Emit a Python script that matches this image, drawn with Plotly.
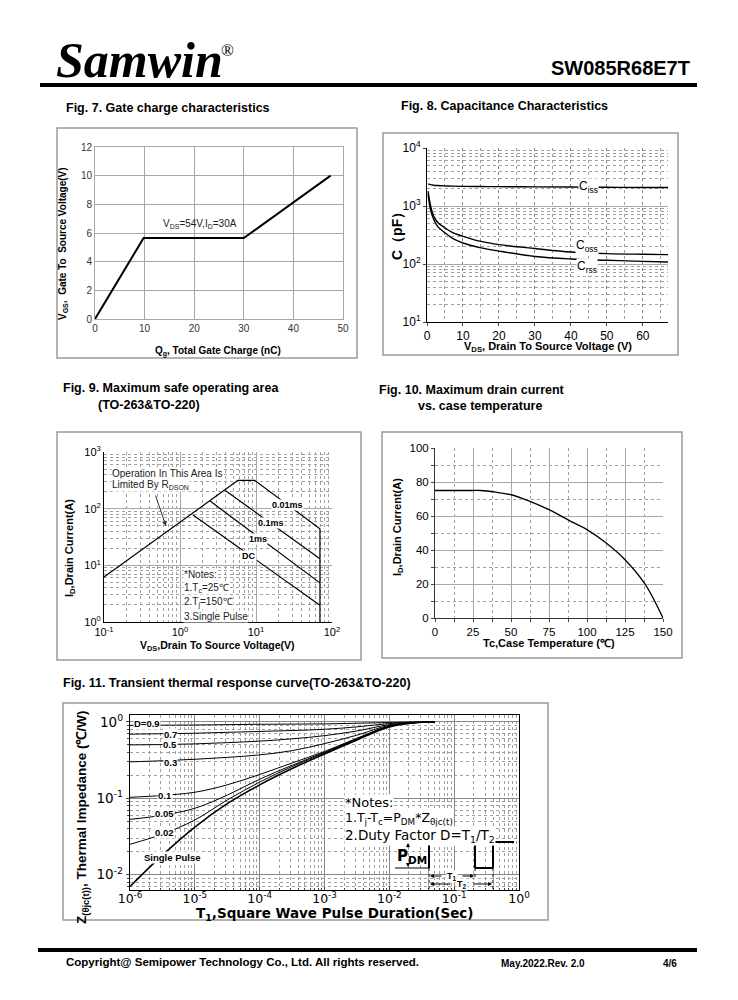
import plotly.graph_objects as go

W, H = 738, 1000
def px(x): return x / W
def py(y): return 1 - y / H

# ---------------- data ----------------
# Fig 7 gate charge
qg_nc = [0, 9.8, 30, 47.5]
vgs_v = [0, 5.65, 5.65, 10]

# Fig 8 capacitance
vds_cap = [0.3, 1, 1.85, 3, 5, 7, 10, 15, 20, 30, 40, 50, 60, 67]
ciss_pf = [2400, 2330, 2280, 2250, 2220, 2200, 2180, 2165, 2155, 2140, 2120, 2100, 2090, 2080]
coss_pf = [1800, 1000, 670, 520, 420, 350, 300, 245, 216, 185, 161, 151, 147, 145]
crss_pf = [1600, 850, 590, 440, 345, 280, 230, 190, 167, 135, 122, 116, 111, 108]

# Fig 9 safe operating area
rdson_v = [0.1, 5.8]
rdson_a = [6.2, 316]
p001_v = [5.8, 9.6, 69.4, 69.4]
p001_a = [316, 316, 44, 1]
p01_v = [3.94, 69.4]
p01_a = [210, 13.1]
p1_v = [2.49, 69.4]
p1_a = [136, 4.9]
dc_v = [1.47, 69.4]
dc_a = [78, 1.97]

# Fig 10 drain current vs case temperature
tc_c = [0, 25, 30, 40, 50, 60, 75, 90, 100, 112, 125, 138, 150]
id_a = [75, 75, 75, 74, 72.5, 69.5, 63.7, 56.5, 52, 44.5, 34.3, 20.2, 0]

# Fig 11 transient thermal response
t1_s = [1e-6, 3.16e-6, 1e-5, 3.16e-5, 1e-4, 3.16e-4, 1e-3, 3.16e-3, 1e-2, 3.16e-2, 5e-2]
z_d09 = [0.90, 0.905, 0.91, 0.92, 0.93, 0.935, 0.94, 0.96, 0.98, 1.0, 1.0]
z_d07 = [0.69, 0.70, 0.71, 0.73, 0.75, 0.77, 0.80, 0.86, 0.95, 1.0, 1.0]
z_d05 = [0.50, 0.505, 0.515, 0.535, 0.56, 0.60, 0.66, 0.76, 0.92, 0.99, 1.0]
z_d03 = [0.30, 0.31, 0.324, 0.343, 0.37, 0.42, 0.52, 0.67, 0.90, 0.99, 1.0]
z_d01 = [0.103, 0.109, 0.12, 0.15, 0.205, 0.29, 0.41, 0.61, 0.88, 0.99, 1.0]
z_d005 = [0.053, 0.06, 0.074, 0.11, 0.178, 0.27, 0.40, 0.60, 0.88, 0.99, 1.0]
z_d002 = [0.025, 0.034, 0.052, 0.095, 0.163, 0.26, 0.39, 0.59, 0.87, 0.99, 1.0]
z_single = [0.007, 0.018, 0.042, 0.085, 0.15, 0.245, 0.38, 0.58, 0.86, 0.99, 1.0]

# tick labels
cap_ticks = [10, 100, 1000, 10000]
cap_ticktext = ["10<sup>1</sup>", "10<sup>2</sup>", "10<sup>3</sup>", "10<sup>4</sup>"]
soa_xticks = [0.1, 1, 10, 100]
soa_xtext = ["10<sup>-1</sup>", "10<sup>0</sup>", "10<sup>1</sup>", "10<sup>2</sup>"]
soa_yticks = [1, 10, 100, 1000]
soa_ytext = ["10<sup>0</sup>", "10<sup>1</sup>", "10<sup>2</sup>", "10<sup>3</sup>"]
zt_xticks = [1e-6, 1e-5, 1e-4, 1e-3, 1e-2, 1e-1, 1]
zt_xtext = ["10<sup>-6</sup>", "10<sup>-5</sup>", "10<sup>-4</sup>", "10<sup>-3</sup>",
            "10<sup>-2</sup>", "10<sup>-1</sup>", "10<sup>0</sup>"]
zt_yticks = [0.01, 0.1, 1]
zt_ytext = ["10<sup>-2</sup>", "10<sup>-1</sup>", "10<sup>0</sup>"]


def log_minor(lo, hi):
    return [m * 10 ** e for e in range(lo, hi) for m in range(2, 10)]


ARIAL = "Arial, Liberation Sans, sans-serif"
DJV = "DejaVu Sans, sans-serif"
GRID = "#a8a8a8"
DOT = "#a0a0a0"

fig = go.Figure()

# Fig 7
fig.add_trace(go.Scatter(x=qg_nc, y=vgs_v, mode="lines",
                         line=dict(color="black", width=2), xaxis="x", yaxis="y"))
# Fig 8
for ys in (ciss_pf, coss_pf, crss_pf):
    fig.add_trace(go.Scatter(x=vds_cap, y=ys, mode="lines",
                             line=dict(color="black", width=1.4, shape="spline"),
                             xaxis="x2", yaxis="y2"))
# Fig 9
for xs, ys in ((rdson_v, rdson_a), (p001_v, p001_a), (p01_v, p01_a), (p1_v, p1_a), (dc_v, dc_a)):
    fig.add_trace(go.Scatter(x=xs, y=ys, mode="lines",
                             line=dict(color="black", width=1.2), xaxis="x3", yaxis="y3"))
# Fig 10
fig.add_trace(go.Scatter(x=tc_c, y=id_a, mode="lines",
                         line=dict(color="black", width=1.3, shape="spline"),
                         xaxis="x4", yaxis="y4"))
# Fig 11
for zs, w in ((z_d09, 1), (z_d07, 1), (z_d05, 1), (z_d03, 1), (z_d01, 1),
              (z_d005, 1), (z_d002, 1), (z_single, 1.6)):
    fig.add_trace(go.Scatter(x=t1_s, y=zs, mode="lines",
                             line=dict(color="black", width=w, shape="spline"),
                             xaxis="x5", yaxis="y5"))

layout = dict(
    template="none",
    width=W, height=H, margin=dict(l=0, r=0, t=0, b=0, pad=0), autosize=False,
    paper_bgcolor="white", plot_bgcolor="white", showlegend=False,
    font=dict(family=ARIAL, color="black"),
)

common = dict(automargin=False, zeroline=False, showline=True)

# Fig 7 axes
layout["xaxis"] = dict(common, domain=[px(95), px(343)], anchor="y", range=[0, 50], tickvals=[0, 10, 20, 30, 40, 50],
                       showgrid=True, gridcolor=GRID, linecolor=GRID,
                       mirror=True, ticks="", tickfont=dict(size=10, color="#333"))
layout["yaxis"] = dict(common, domain=[py(319), py(147)], anchor="x", range=[0, 12], tickvals=[0, 2, 4, 6, 8, 10, 12],
                       showgrid=True, gridcolor=GRID, linecolor=GRID,
                       mirror=True, ticks="", tickfont=dict(size=10, color="#333"))
# Fig 8 axes
layout["xaxis2"] = dict(common, domain=[px(427), px(668)], anchor="y2", range=[0, 67], tickvals=[0, 10, 20, 30, 40, 50, 60],
                        showgrid=True, gridcolor="#888", griddash="dot",
                        linecolor="black", ticks="outside", ticklen=3,
                        tickfont=dict(size=12),
                        minor=dict(tickvals=[5, 15, 25, 35, 45, 55, 65], showgrid=True,
                                   gridcolor=DOT, griddash="dot"))
layout["yaxis2"] = dict(common, domain=[py(322), py(148)], anchor="x2", type="log", range=[1, 4],
                        tickvals=cap_ticks, ticktext=cap_ticktext, showgrid=True, gridcolor=GRID,
                        linecolor="black", ticks="outside", ticklen=3,
                        tickfont=dict(size=12),
                        minor=dict(tickvals=log_minor(1, 4), showgrid=True, gridcolor=DOT, griddash="dot"))
# Fig 9 axes
layout["xaxis3"] = dict(common, domain=[px(104), px(332)], anchor="y3", type="log", range=[-1, 2],
                        tickvals=soa_xticks, ticktext=soa_xtext, showgrid=True, gridcolor=GRID,
                        linecolor="black", ticks="", tickfont=dict(size=11),
                        minor=dict(tickvals=log_minor(-1, 2), showgrid=True, gridcolor=DOT, griddash="dot"))
layout["yaxis3"] = dict(common, domain=[py(622), py(452)], anchor="x3", type="log", range=[0, 3],
                        tickvals=soa_yticks, ticktext=soa_ytext, showgrid=True, gridcolor=GRID,
                        linecolor="black", ticks="", tickfont=dict(size=11),
                        minor=dict(tickvals=log_minor(0, 3), showgrid=True, gridcolor=DOT, griddash="dot"))
# Fig 10 axes
layout["xaxis4"] = dict(common, domain=[px(435), px(663)], anchor="y4", range=[0, 150], tickvals=[0, 25, 50, 75, 100, 125, 150],
                        showgrid=True, gridcolor=GRID, linecolor="#333",
                        ticks="outside", ticklen=3, tickfont=dict(size=11.5),
                        minor=dict(tickvals=[12.5, 37.5, 62.5, 87.5, 112.5, 137.5], showgrid=True,
                                   gridcolor=DOT, griddash="dot", ticks="outside", ticklen=3))
layout["yaxis4"] = dict(common, domain=[py(618), py(448)], anchor="x4", range=[0, 100], tickvals=[0, 20, 40, 60, 80, 100],
                        showgrid=True, gridcolor=GRID, linecolor="#333",
                        ticks="outside", ticklen=3, tickfont=dict(size=11.5),
                        minor=dict(tickvals=[10, 30, 50, 70, 90], showgrid=True, gridcolor=DOT,
                                   griddash="dot", ticks="outside", ticklen=3))
# Fig 11 axes
layout["xaxis5"] = dict(common, domain=[px(130), px(519)], anchor="y5", type="log", range=[-6, 0],
                        tickvals=zt_xticks, ticktext=zt_xtext, showgrid=True, gridcolor="#888",
                        linecolor="black", linewidth=1.3, mirror=True, ticklabelstandoff=-3,
                        ticks="inside", ticklen=3, tickfont=dict(size=12.5, family=DJV),
                        minor=dict(tickvals=log_minor(-6, 0), showgrid=True, gridcolor=DOT, griddash="dot",
                                   ticks="inside", ticklen=2))
layout["yaxis5"] = dict(common, domain=[py(890), py(715)], anchor="x5", type="log", range=[-2.2, 0.09],
                        tickvals=zt_yticks, ticktext=zt_ytext, showgrid=True, gridcolor="#888",
                        linecolor="black", linewidth=1.3, mirror=True,
                        ticks="outside", ticklen=3, tickfont=dict(size=13.5, family=DJV),
                        minor=dict(tickvals=log_minor(-3, 1), showgrid=True, gridcolor=DOT, griddash="dot",
                                   ticks="outside", ticklen=2))

fig.update_layout(**layout)

shapes = []
# chart boxes
for x0, y0, x1, y1 in ((57, 128, 357, 358), (383, 133, 678, 355), (57, 432, 361, 660),
                       (382, 432, 682, 658), (63, 703, 548, 920)):
    shapes.append(dict(type="rect", xref="paper", yref="paper", x0=px(x0), x1=px(x1), y0=py(y0), y1=py(y1),
                       line=dict(color="#9a9a9a", width=1.5), layer="below"))
# header/footer rules
shapes.append(dict(type="line", xref="paper", yref="paper", x0=px(40), x1=px(697), y0=py(85), y1=py(85),
                   line=dict(color="black", width=4)))
shapes.append(dict(type="line", xref="paper", yref="paper", x0=px(38), x1=px(697), y0=py(950), y1=py(950),
                   line=dict(color="black", width=4)))
# PDM waveform illustration (Fig 11)
def seg(x0, y0, x1, y1, w=1, dash="solid"):
    shapes.append(dict(type="line", xref="paper", yref="paper", x0=px(x0), x1=px(x1), y0=py(y0), y1=py(y1),
                       line=dict(color="black", width=w, dash=dash), layer="above"))
seg(395, 842, 429, 842)
seg(395, 868, 429, 868)
seg(429, 868, 429, 842, 2)
seg(429, 842, 475, 842, 2)
seg(475, 842, 475, 868, 2)
seg(475, 868, 493, 868, 2)
seg(493, 868, 493, 842, 2)
seg(493, 842, 514, 842, 2)
seg(429, 868, 429, 889, 1, "dot")
seg(493, 868, 493, 889, 1, "dot")
seg(475, 868, 475, 880, 1, "dot")
fig.update_layout(shapes=shapes)

ann = []
def txt(x, y, text, size=11, bold=False, xanchor="left", family=ARIAL, bg=None, angle=0, color="black"):
    a = dict(xref="paper", yref="paper", x=px(x), y=py(y), text=("<b>%s</b>" % text) if bold else text,
             showarrow=False, xanchor=xanchor, yanchor="middle", textangle=angle,
             font=dict(size=size, family=family, color=color), borderpad=0)
    if bg:
        a["bgcolor"] = bg
    ann.append(a)

# header
txt(55, 60, "<i>Samwin</i>", 50, True, family="Liberation Serif, Times New Roman, serif")
txt(220, 50, "®", 17, family="Liberation Serif, Times New Roman, serif")
txt(691, 68, "SW085R68E7T", 20, True, xanchor="right")
# footer
txt(65, 962, "Copyright@ Semipower Technology Co., Ltd. All rights reserved.", 11.5, True)
txt(500, 963, "May.2022.Rev. 2.0", 10, True)
txt(662, 963, "4/6", 10, True)

# figure titles
TS = 12.5
txt(65, 108, "Fig. 7. Gate charge characteristics", TS, True)
txt(400, 106, "Fig. 8. Capacitance Characteristics", TS, True)
txt(62, 388, "Fig. 9. Maximum safe operating area", TS, True)
txt(97, 405, "(TO-263&TO-220)", TS, True)
txt(378, 390, "Fig. 10. Maximum drain current", TS, True)
txt(417, 406, "vs. case temperature", TS, True)
txt(62, 683, "Fig. 11. Transient thermal response curve(TO-263&TO-220)", TS, True)

# Fig 7 texts
txt(218, 351, "Q<sub>g</sub>, Total Gate Charge (nC)", 10, True, xanchor="center")
txt(63, 244, "V<sub>GS</sub>,  Gate To  Source Voltage(V)", 10, True, xanchor="center", angle=-90)
ann.append(dict(xref="x", yref="y", x=21.2, y=6.6, text="V<sub>DS</sub>=54V,I<sub>D</sub>=30A",
                showarrow=False, font=dict(size=10, color="#222")))

# Fig 8 texts
txt(548, 347, "V<sub>DS</sub>, Drain To Source Voltage (V)", 11, True, xanchor="center")
txt(397, 233, "C（pF）", 14, True, xanchor="center", angle=-90)
txt(588, 187, "C<sub>iss</sub>", 12, xanchor="center", bg="white")
txt(587, 246, "C<sub>oss</sub>", 12, xanchor="center", bg="white")
txt(587, 267, "C<sub>rss</sub>", 12, xanchor="center", bg="white")

# Fig 9 texts
txt(217, 646, "V<sub>DS</sub>,Drain To Source Voltage(V)", 10.5, True, xanchor="center")
txt(70, 548, "I<sub>D</sub>,Drain Current(A)", 11, True, xanchor="center", angle=-90)
txt(287, 505, "0.01ms", 9, True, xanchor="center", bg="white")
txt(271, 523, "0.1ms", 9, True, xanchor="center", bg="white")
txt(258, 539, "1ms", 9, True, xanchor="center", bg="white")
txt(249, 556, "DC", 9, True, xanchor="center", bg="white")
txt(111, 473, "Operation In This Area Is", 10, bg="white", color="#222")
txt(111, 485, "Limited By R<sub>DSON</sub>", 10, bg="white", color="#222")
txt(183, 574, "*Notes:", 10, bg="white", color="#222")
txt(183, 588, "1.T<sub>c</sub>=25℃", 10, bg="white", color="#222")
txt(183, 602, "2.T<sub>j</sub>=150℃", 10, bg="white", color="#222")
txt(183, 616, "3.Single Pulse", 10, bg="white", color="#222")


def arrow(hx, hy, tx, ty, color="black", size=0.8):
    ann.append(dict(xref="paper", yref="paper", x=px(hx), y=py(hy), ax=tx - hx, ay=ty - hy,
                    axref="pixel", ayref="pixel", text="", showarrow=True, arrowhead=2,
                    arrowsize=size, arrowwidth=1, arrowcolor=color))

arrow(166, 526, 155, 494, "#333", 1)

# Fig 10 texts
txt(549, 643, "Tc,Case Temperature (℃)", 11, True, xanchor="center")
txt(398, 527, "I<sub>D</sub>,Drain Current(A)", 11, True, xanchor="center", angle=-90)

# Fig 11 texts
txt(335, 914, "T<sub>1</sub>,Square Wave Pulse Duration(Sec)", 13.5, True, xanchor="center", family=DJV)
txt(82, 818, "Z<sub>(θjc(t))</sub>, Thermal Impedance (℃/W)", 13.5, True, xanchor="center", angle=-90,
    family="Liberation Sans Narrow, Arial Narrow, Arial, sans-serif")
for x, y, t, anc in ((133, 723, "D=0.9", "left"), (170, 734, "0.7", "center"), (170, 744, "0.5", "center"),
                     (170, 762, "0.3", "center"), (165, 795, "0.1", "center"), (164, 813, "0.05", "center"),
                     (164, 832, "0.02", "center"), (172, 857, "Single Pulse", "center")):
    txt(x, y, t, 9.5, True, xanchor=anc, bg="white")
txt(344, 802, "*Notes:", 13, family=DJV, bg="white")
txt(344, 818, "1.T<sub>j</sub>-T<sub>c</sub>=P<sub>DM</sub>*Z<sub>θjc(t)</sub>", 12.5, family=DJV, bg="white")
txt(344, 836, "2.Duty Factor D=T<sub>1</sub>/T<sub>2</sub>", 13.5, family=DJV, bg="white")
txt(412, 856, "P<sub>DM</sub>", 15, True, xanchor="center", family=DJV)
txt(452, 876, "T<sub>1</sub>", 9, True, xanchor="center", bg="white")
txt(462, 884, "T<sub>2</sub>", 9, True, xanchor="center", bg="white")

arrow(408, 843, 408, 849)
arrow(408, 867, 408, 862)
arrow(430, 876, 443, 876)
arrow(474, 876, 461, 876)
arrow(430, 884, 452, 884)
arrow(492, 884, 472, 884)

fig.update_layout(annotations=ann)
fig.write_html("out.html", config={"displayModeBar": False},
               post_script="document.body.style.margin='0px';document.body.style.padding='0px';")
